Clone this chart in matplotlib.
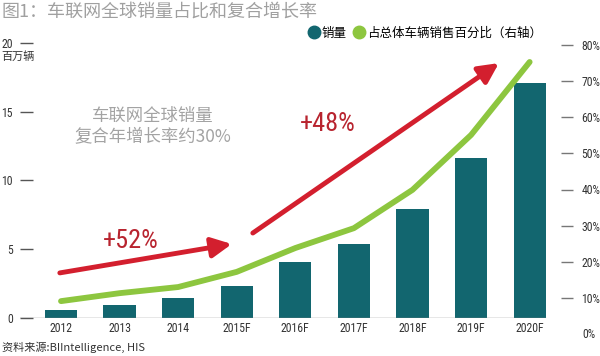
import matplotlib.pyplot as plt
import matplotlib.transforms as mtransforms
from matplotlib.lines import Line2D
import numpy as np

plt.rcParams['font.family'] = ['Noto Sans CJK SC', 'DejaVu Sans']

years = ['2012', '2013', '2014', '2015F', '2016F', '2017F', '2018F', '2019F', '2020F']
sales = [0.58, 0.95, 1.45, 2.33, 4.07, 5.38, 7.93, 11.6, 17.1]          # 百万辆
share = [9.1, 11.3, 13.0, 17.2, 23.8, 29.3, 39.9, 55.1, 75.3]          # %
left_ticks = [0, 5, 10, 15, 20]
right_ticks = [10, 20, 30, 40, 50, 60, 70, 80]

teal = '#12666f'
green = '#8dc63f'
red = '#d31f2e'
narrow = dict(family=['Roboto Condensed', 'DejaVu Sans'], fontstretch='condensed')

fig = plt.figure(figsize=(6, 3.56), dpi=100)
ax = fig.add_axes([20 / 600, 1 - 318 / 356, 553 / 600, 275 / 356])
x = np.arange(len(years))

ax.bar(x, sales, width=0.55, color=teal, zorder=2)
ax.set_xlim(-0.70, 8.74)
ax.set_ylim(0, 20)
ax.axhline(0, xmin=0, xmax=0.95, color='#888888', lw=1, zorder=3)
for s in ax.spines.values():
    s.set_visible(False)
ax.set_yticks(left_ticks)
ax.set_yticklabels([str(t) for t in left_ticks], fontsize=8.5, color='#333333', **narrow)
ax.tick_params(axis='y', direction='in', length=9, width=1, color='#555555', pad=5)
ax.set_xticks(x)
ax.set_xticklabels(years, fontsize=8.5, color='#333333', **narrow)
ax.tick_params(axis='x', length=0, pad=3)

ax2 = ax.twinx()
ax2.plot(x, share, color=green, lw=4.2, solid_capstyle='round', zorder=4)
ax2.set_ylim((334 - 318) / 3.6125, (334 - 43) / 3.6125)
for s in ax2.spines.values():
    s.set_visible(False)
ax2.set_yticks(right_ticks)
ax2.set_yticklabels([f'{t}%' for t in right_ticks], fontsize=8.5, color='#333333', **narrow)
ax2.tick_params(axis='y', direction='in', length=9, width=1, color='#777777', pad=6)
trans = mtransforms.blended_transform_factory(ax2.transAxes, ax2.transData)
ax2.text(1.017, 0, '0%', transform=trans, fontsize=8.5, color='#333333', va='center', **narrow)

# arrows and notes
ax2.annotate('', xy=(0.383, 0.269), xytext=(0.072, 0.164), xycoords='axes fraction',
             arrowprops=dict(arrowstyle='-|>,head_length=1.2,head_width=0.6', lw=3.5, color=red,
                             shrinkA=0, shrinkB=0))
ax2.annotate('', xy=(0.866, 0.927), xytext=(0.421, 0.309), xycoords='axes fraction',
             arrowprops=dict(arrowstyle='-|>,head_length=1.2,head_width=0.6', lw=3.5, color=red,
                             shrinkA=0, shrinkB=0))
ax2.text(0.201, 0.28, '+52%', transform=ax2.transAxes, fontsize=19,
         color='#b8242f', ha='center', va='center', **narrow)
ax2.text(0.557, 0.705, '+48%', transform=ax2.transAxes, fontsize=19,
         color='#b8242f', ha='center', va='center', **narrow)
ax2.text(0.240, 0.735, '车联网全球销量', transform=ax2.transAxes, fontsize=12.5,
         color='#a3a3a3', ha='center', va='center', fontweight='light')
ax2.text(0.240, 0.658, '复合年增长率约30%', transform=ax2.transAxes, fontsize=12.5,
         color='#a3a3a3', ha='center', va='center', fontweight='light')

fig.text(0.003, 1 - 12 / 356, '图1：车联网全球销量占比和复合增长率', fontsize=13,
         color='#a0a0a0', va='center')
fig.text(0.003, 1 - 57 / 356, '百万辆', fontsize=8, color='#333333', va='center')
fig.text(0.003, 1 - 347 / 356, '资料来源:BIIntelligence, HIS', fontsize=8, color='#333333', va='center')

handles = [Line2D([], [], marker='o', ls='', markersize=9, color=teal),
           Line2D([], [], marker='o', ls='', markersize=9, color=green)]
fig.legend(handles, ['销量', '占总体车辆销售百分比（右轴）'], loc='center left',
           bbox_to_anchor=(301 / 600, 1 - 33 / 356), ncol=2, frameon=False, fontsize=9,
           handletextpad=0.15, columnspacing=0.5, handlelength=1.0, borderpad=0)

fig.savefig('out.png', dpi=100)
